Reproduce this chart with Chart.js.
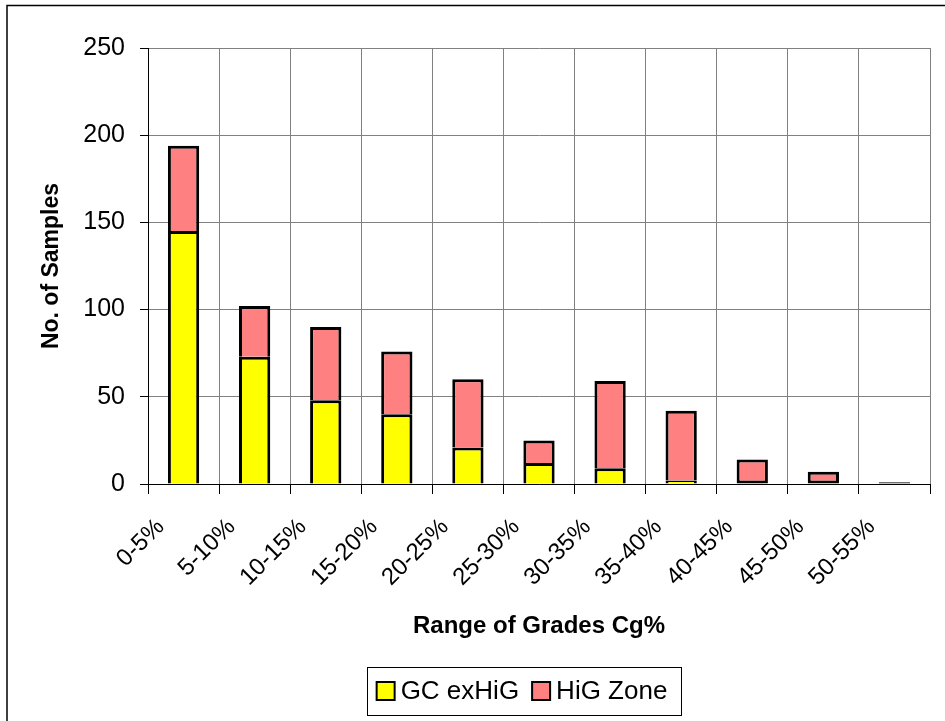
<!DOCTYPE html>
<html>
<head>
<meta charset="utf-8">
<script src="https://cdn.jsdelivr.net/npm/chart.js@4.4.1/dist/chart.umd.min.js"></script>
<style>
  html, body { margin: 0; padding: 0; background: #fff; }
  #wrap { width: 945px; height: 721px; position: relative; }
</style>
</head>
<body>
<div id="wrap"><canvas id="c" width="945" height="721"></canvas></div>
<script>
// Grade ranges (categories)
const gradeRanges = ['0-5%', '5-10%', '10-15%', '15-20%', '20-25%', '25-30%',
                     '30-35%', '35-40%', '40-45%', '45-50%', '50-55%'];
// Sample counts per grade range
const gcExHiG = [145, 73, 48, 40, 21, 12, 9, 2, 0, 0, 0];
const higZone = [49, 29, 42, 36, 39, 13, 50, 40, 14, 7, 1];
// Value axis ticks
const yTicks = [0, 50, 100, 150, 200, 250];
const seriesNames = ['GC exHiG', 'HiG Zone'];

const FONT = "'Liberation Sans', Arial, sans-serif";

// Outer frame of the chart
const framePlugin = {
  id: 'frame',
  beforeDraw(chart) {
    const ctx = chart.ctx;
    ctx.save();
    ctx.fillStyle = '#fff';
    ctx.fillRect(0, 0, chart.width, chart.height);
    ctx.strokeStyle = '#000';
    ctx.lineWidth = 1.5;
    ctx.beginPath();
    ctx.moveTo(7, chart.height);
    ctx.lineTo(7, 5.5);
    ctx.lineTo(chart.width, 5.5);
    ctx.stroke();
    ctx.restore();
  }
};

// Boxed legend drawn below the axis title
const boxLegend = {
  id: 'boxLegend',
  afterDraw(chart) {
    const ctx = chart.ctx;
    const ds = chart.data.datasets;
    ctx.save();
    ctx.font = '26px ' + FONT;
    const sw = 18, gap = 6, itemGap = 13, padL = 10, padR = 13;
    const widths = ds.map(d => ctx.measureText(d.label).width);
    let total = 0;
    widths.forEach((w, i) => { total += sw + gap + w + (i ? itemGap : 0); });
    const boxW = total + padL + padR;
    const cx = 523.5;
    const left = cx - boxW / 2, top = 667, h = 48;
    ctx.strokeStyle = '#000';
    ctx.lineWidth = 1;
    ctx.strokeRect(Math.round(left) + 0.5, top + 0.5, Math.round(boxW), h);
    let x = left + padL;
    const cy = top + h / 2;
    ds.forEach((d, i) => {
      if (i) x += itemGap;
      ctx.fillStyle = d.backgroundColor;
      ctx.fillRect(x, cy - sw / 2, sw, sw);
      ctx.lineWidth = 2;
      ctx.strokeRect(x, cy - sw / 2, sw, sw);
      x += sw + gap;
      ctx.fillStyle = '#000';
      ctx.textBaseline = 'middle';
      ctx.textAlign = 'left';
      ctx.fillText(d.label, x, cy + 1);
      x += widths[i];
    });
    ctx.restore();
  }
};

new Chart(document.getElementById('c'), {
  type: 'bar',
  data: {
    labels: gradeRanges,
    datasets: [
      {
        label: seriesNames[0],
        data: gcExHiG,
        backgroundColor: '#FFFF00',
        borderColor: '#000',
        borderWidth: 3,
        barPercentage: 0.44,
        categoryPercentage: 1.0
      },
      {
        label: seriesNames[1],
        data: higZone,
        backgroundColor: '#FF8080',
        borderColor: '#000',
        borderWidth: 3,
        // the lower segment's top edge already separates the two parts
        borderSkipped: c => (gcExHiG[c.dataIndex] > 0 ? 'start' : false),
        barPercentage: 0.44,
        categoryPercentage: 1.0
      }
    ]
  },
  options: {
    responsive: false,
    animation: false,
    layout: { padding: { left: 0, top: 48, right: 15, bottom: 80 } },
    plugins: {
      legend: { display: false },
      tooltip: { enabled: false }
    },
    scales: {
      x: {
        stacked: true,
        offset: true,
        grid: {
          offset: true,
          color: '#808080',
          tickColor: '#000',
          tickLength: 10,
          lineWidth: 1
        },
        border: { color: '#000', width: 1 },
        ticks: {
          color: '#000',
          font: { family: FONT, size: 24 },
          minRotation: 45,
          maxRotation: 45,
          autoSkip: false,
          labelOffset: -23,
          padding: 19
        },
        title: {
          display: true,
          text: 'Range of Grades Cg%',
          color: '#000',
          font: { family: FONT, size: 24, weight: 'bold' },
          padding: { top: 0, bottom: 0 }
        },
        afterFit(scale) { scale.height = 157; }
      },
      y: {
        stacked: true,
        min: 0,
        max: 250,
        afterBuildTicks(scale) { scale.ticks = yTicks.map(v => ({ value: v })); },
        grid: {
          color: '#808080',
          tickColor: '#000',
          tickLength: 8,
          lineWidth: 1
        },
        border: { color: '#000', width: 1 },
        ticks: {
          color: '#000',
          font: { family: FONT, size: 25 },
          padding: 15
        },
        title: {
          display: true,
          text: 'No. of Samples',
          color: '#000',
          font: { family: FONT, size: 23, weight: 'bold' },
          padding: { top: 38, bottom: 0 }
        },
        afterFit(scale) { scale.width = 148; }
      }
    }
  },
  plugins: [framePlugin, boxLegend]
});
</script>
</body>
</html>
